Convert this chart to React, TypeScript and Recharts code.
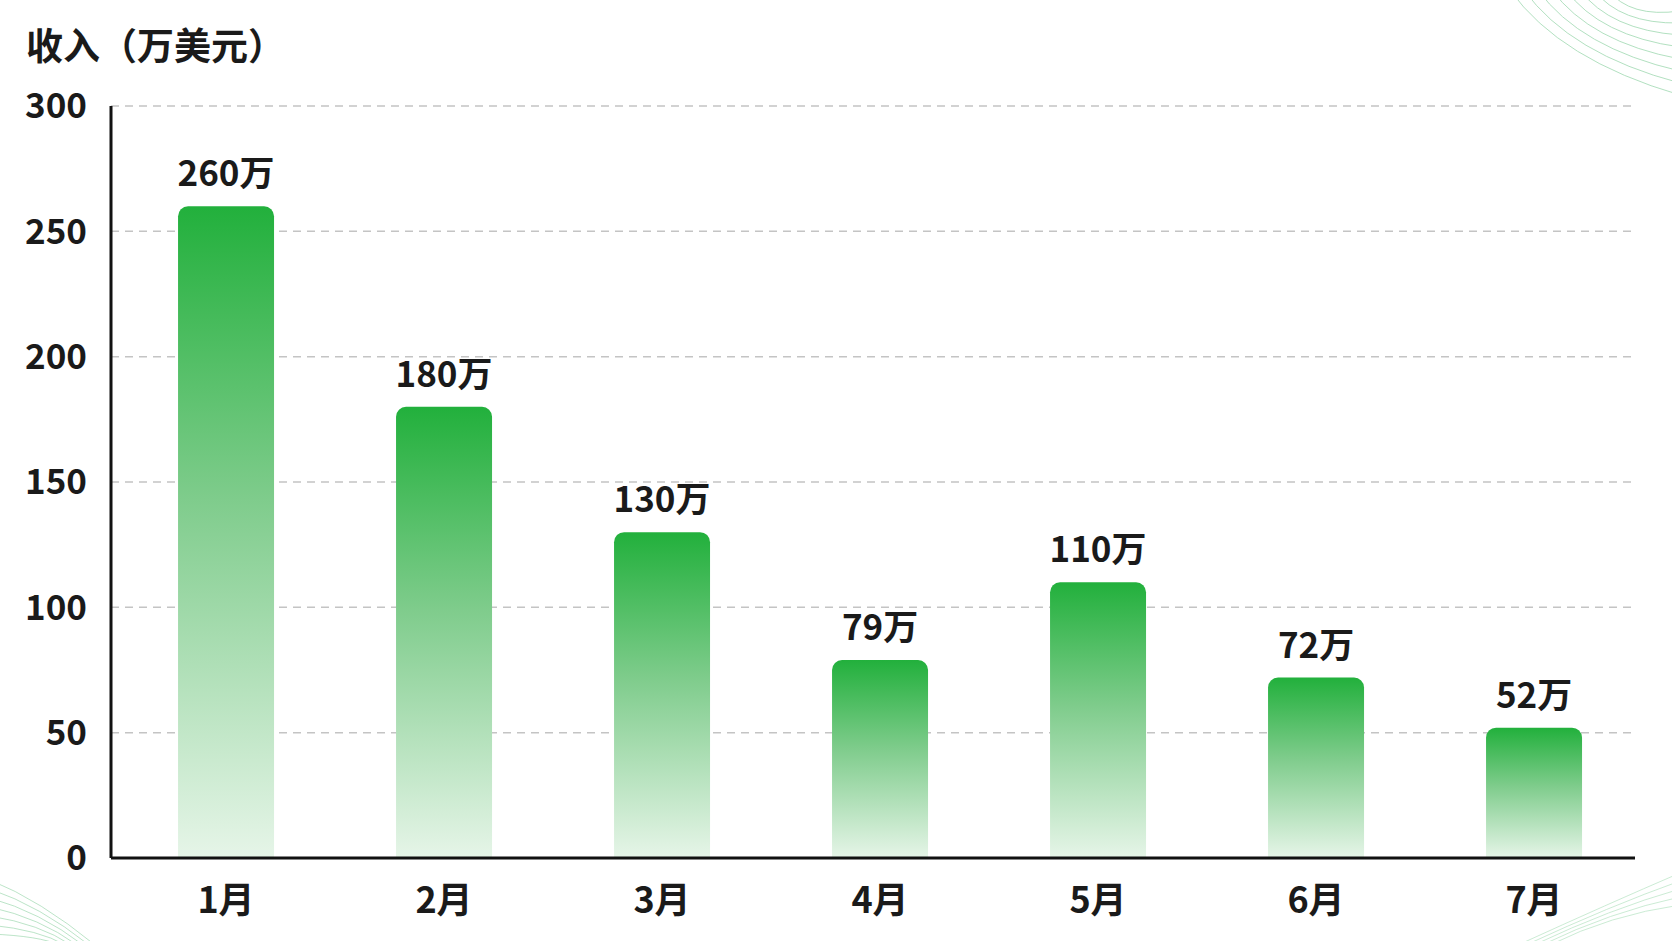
import { BarChart, Bar, XAxis, YAxis, CartesianGrid, LabelList } from "recharts";

const months = ["1月", "2月", "3月", "4月", "5月", "6月", "7月"];
const revenue = [260, 180, 130, 79, 110, 72, 52];
const yTicks = [0, 50, 100, 150, 200, 250, 300];

const data = months.map((m, i) => ({ month: m, value: revenue[i] }));

const FONT = '"Noto Sans CJK SC", "Noto Sans", sans-serif';

function Decorations() {
  // 角落的浅绿色弧线装饰
  const arcs = [0, 1, 2, 3, 4, 5, 6, 7];
  return (
    <svg
      width={1672}
      height={941}
      style={{ position: "absolute", left: 0, top: 0, pointerEvents: "none" }}
    >
      {arcs.map((k) => (
        <path
          key={"tr" + k}
          d={`M ${1510 + k * 14} -10 Q ${1560 + k * 10} ${60 - k * 6} ${1680} ${95 - k * 12}`}
          fill="none"
          stroke="#9fd8b0"
          strokeWidth={1}
          opacity={0.8}
        />
      ))}
      {arcs.map((k) => (
        <path
          key={"bl" + k}
          d={`M -10 ${880 + k * 9} Q ${40} ${900 + k * 6} ${95 - k * 6} ${945}`}
          fill="none"
          stroke="#9fd8b0"
          strokeWidth={1}
          opacity={0.7}
        />
      ))}
      {arcs.slice(0, 5).map((k) => (
        <path
          key={"br" + k}
          d={`M ${1550 - k * 8} 945 Q ${1610} ${915 - k * 3} ${1680} ${905 - k * 8}`}
          fill="none"
          stroke="#b5e2c2"
          strokeWidth={1}
          opacity={0.7}
        />
      ))}
    </svg>
  );
}

export default function App() {
  return (
    <div
      style={{
        position: "absolute",
        left: 0,
        top: 0,
        width: 1672,
        height: 941,
        background: "#ffffff",
        fontFamily: FONT,
        overflow: "hidden",
      }}
    >
      <Decorations />
      <div
        style={{
          position: "absolute",
          left: 26,
          top: 20,
          fontSize: 37,
          fontWeight: 700,
          color: "#1a1a1a",
          lineHeight: "48px",
        }}
      >
        收入（万美元）
      </div>
      <div style={{ position: "absolute", left: 0, top: 0 }}>
        <BarChart
          width={1672}
          height={941}
          data={data}
          margin={{ top: 106, right: 37, left: 0, bottom: 0 }}
          barCategoryGap="28%"
        >
          <defs>
            <linearGradient id="barGrad" x1="0" y1="0" x2="0" y2="1">
              <stop offset="0%" stopColor="#22b03c" />
              <stop offset="45%" stopColor="#7fcc8c" />
              <stop offset="100%" stopColor="#e6f5e8" />
            </linearGradient>
          </defs>
          <CartesianGrid
            vertical={false}
            stroke="#c4c4c4"
            strokeDasharray="8 6"
            strokeWidth={1.5}
          />
          <XAxis
            dataKey="month"
            height={83}
            padding={{ left: 6, right: -8 }}
            axisLine={{ stroke: "#111111", strokeWidth: 3 }}
            tickLine={false}
            tickSize={0}
            tickMargin={29}
            tick={{ fontSize: 36, fontWeight: 700, fill: "#1a1a1a", fontFamily: FONT }}
          />
          <YAxis
            width={111}
            domain={[0, 300]}
            ticks={yTicks}
            axisLine={{ stroke: "#111111", strokeWidth: 3 }}
            tickLine={false}
            tickSize={0}
            tickMargin={24}
            tick={{ fontSize: 35, fontWeight: 700, fill: "#1a1a1a", fontFamily: FONT }}
          />
          <Bar
            dataKey="value"
            fill="url(#barGrad)"
            radius={[10, 10, 0, 0]}
            isAnimationActive={false}
          >
            <LabelList
              dataKey="value"
              position="top"
              offset={20}
              formatter={(v: number) => `${v}万`}
              style={{ fontSize: 35, fontWeight: 700, fill: "#1a1a1a", fontFamily: FONT }}
            />
          </Bar>
        </BarChart>
      </div>
    </div>
  );
}
